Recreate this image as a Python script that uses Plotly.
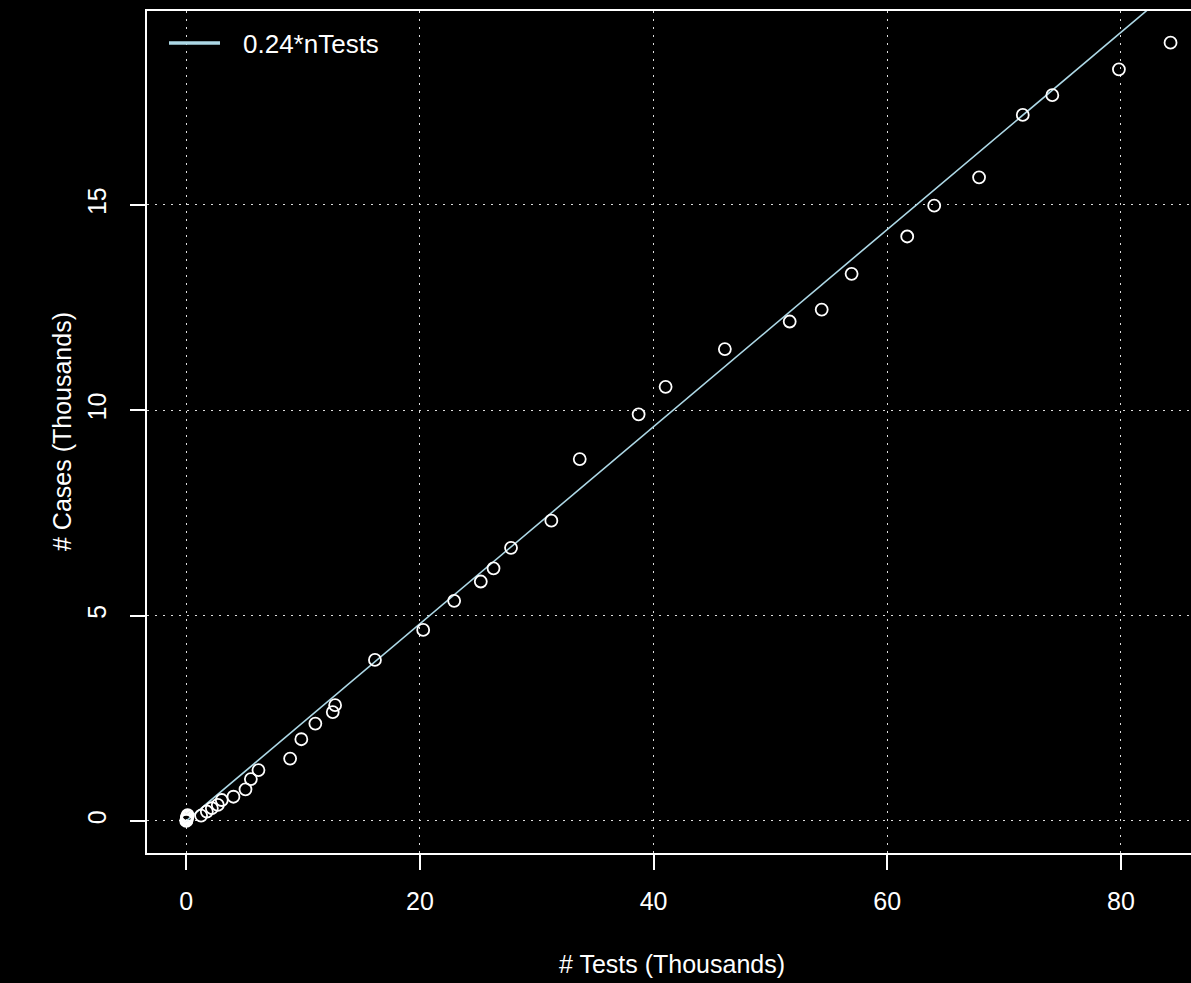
import plotly.graph_objects as go

# Data (thousands)
tests = [0.0, 0.02, 0.04, 0.06, 0.09, 0.12,
         1.27, 1.76, 2.19, 2.70, 3.04, 4.04, 5.07, 5.53, 6.18, 8.89, 9.85,
         11.05, 12.54, 12.74, 16.15, 20.28, 22.93, 25.21, 26.30, 27.80,
         31.25, 33.68, 38.72, 41.03, 46.10, 51.65, 54.39, 56.95, 61.71,
         64.02, 67.86, 71.60, 74.13, 79.83, 84.25]
cases = [0.0, 0.02, 0.05, 0.08, 0.11, 0.14,
         0.13, 0.23, 0.31, 0.39, 0.51, 0.59, 0.77, 1.02, 1.24, 1.52, 1.99,
         2.37, 2.65, 2.82, 3.92, 4.65, 5.36, 5.83, 6.15, 6.65,
         7.31, 8.81, 9.90, 10.57, 11.49, 12.16, 12.45, 13.32, 14.23,
         14.98, 15.67, 17.19, 17.67, 18.30, 18.95]
slope = 0.24
fit_label = "0.24*nTests"
fit_x = [0.0, 90.0]
fit_y = [slope * v for v in fit_x]
x_ticks = [0, 20, 40, 60, 80]
y_ticks = [0, 5, 10, 15]

FONT = "Liberation Sans, Arial, sans-serif"
FS = 25
fig = go.Figure()
fig.add_trace(go.Scatter(x=fit_x, y=fit_y, mode="lines",
                         line=dict(color="#add8e6", width=1.6),
                         name=fit_label, showlegend=False, hoverinfo="skip"))
fig.add_trace(go.Scatter(x=tests, y=cases, mode="markers",
                         marker=dict(symbol="circle-open", size=12,
                                     color="white", line=dict(width=1.8, color="white")),
                         showlegend=False))

axis_common = dict(showgrid=True, gridcolor="#dddddd", griddash="2px,6px", gridwidth=1.2,
                   zeroline=False, showline=True, linecolor="white", linewidth=1.6,
                   ticks="outside", ticklen=15, tickwidth=1.6, tickcolor="white",
                   tickfont=dict(family=FONT, size=FS, color="white"))

fig.update_xaxes(range=[-3.36, 86.0], tickvals=x_ticks, mirror=True,
                 ticklabelstandoff=10, **axis_common)
fig.update_yaxes(range=[-0.78, 19.72], tickvals=y_ticks, tickangle=-90,
                 ticklabelstandoff=14, **axis_common)

# legend drawn as a line sample + text (as in the reference base-R legend)
W = 1191 - 147
H = 853 - 11
def px_x(p):
    return (p - 147) / W
def px_y(p):
    return (853 - p) / H

fig.add_shape(type="line", xref="paper", yref="paper",
              x0=px_x(169), x1=px_x(220), y0=px_y(43), y1=px_y(43),
              line=dict(color="#add8e6", width=3.5))

fig.update_layout(
    width=1191, height=983,
    margin=dict(l=147, r=0, t=11, b=130),
    paper_bgcolor="black", plot_bgcolor="black",
    font=dict(family=FONT, color="white", size=FS),
    showlegend=False,
    annotations=[
        dict(text=fit_label, xref="paper", yref="paper",
             x=px_x(241), y=px_y(44), xanchor="left", yanchor="middle",
             showarrow=False, font=dict(family=FONT, size=26, color="white")),
        dict(text="# Tests (Thousands)", xref="paper", yref="paper",
             x=px_x(672), y=px_y(964), xanchor="center", yanchor="middle",
             showarrow=False, font=dict(family=FONT, size=FS, color="white")),
        dict(text="# Cases (Thousands)", xref="paper", yref="paper",
             x=px_x(62), y=0.5, xanchor="center", yanchor="middle", textangle=-90,
             showarrow=False, font=dict(family=FONT, size=FS, color="white")),
    ],
)

fig.write_html("out.html", config={"displayModeBar": False},
               post_script="document.body.style.margin='0';document.body.style.background='black';document.documentElement.style.background='black';")
